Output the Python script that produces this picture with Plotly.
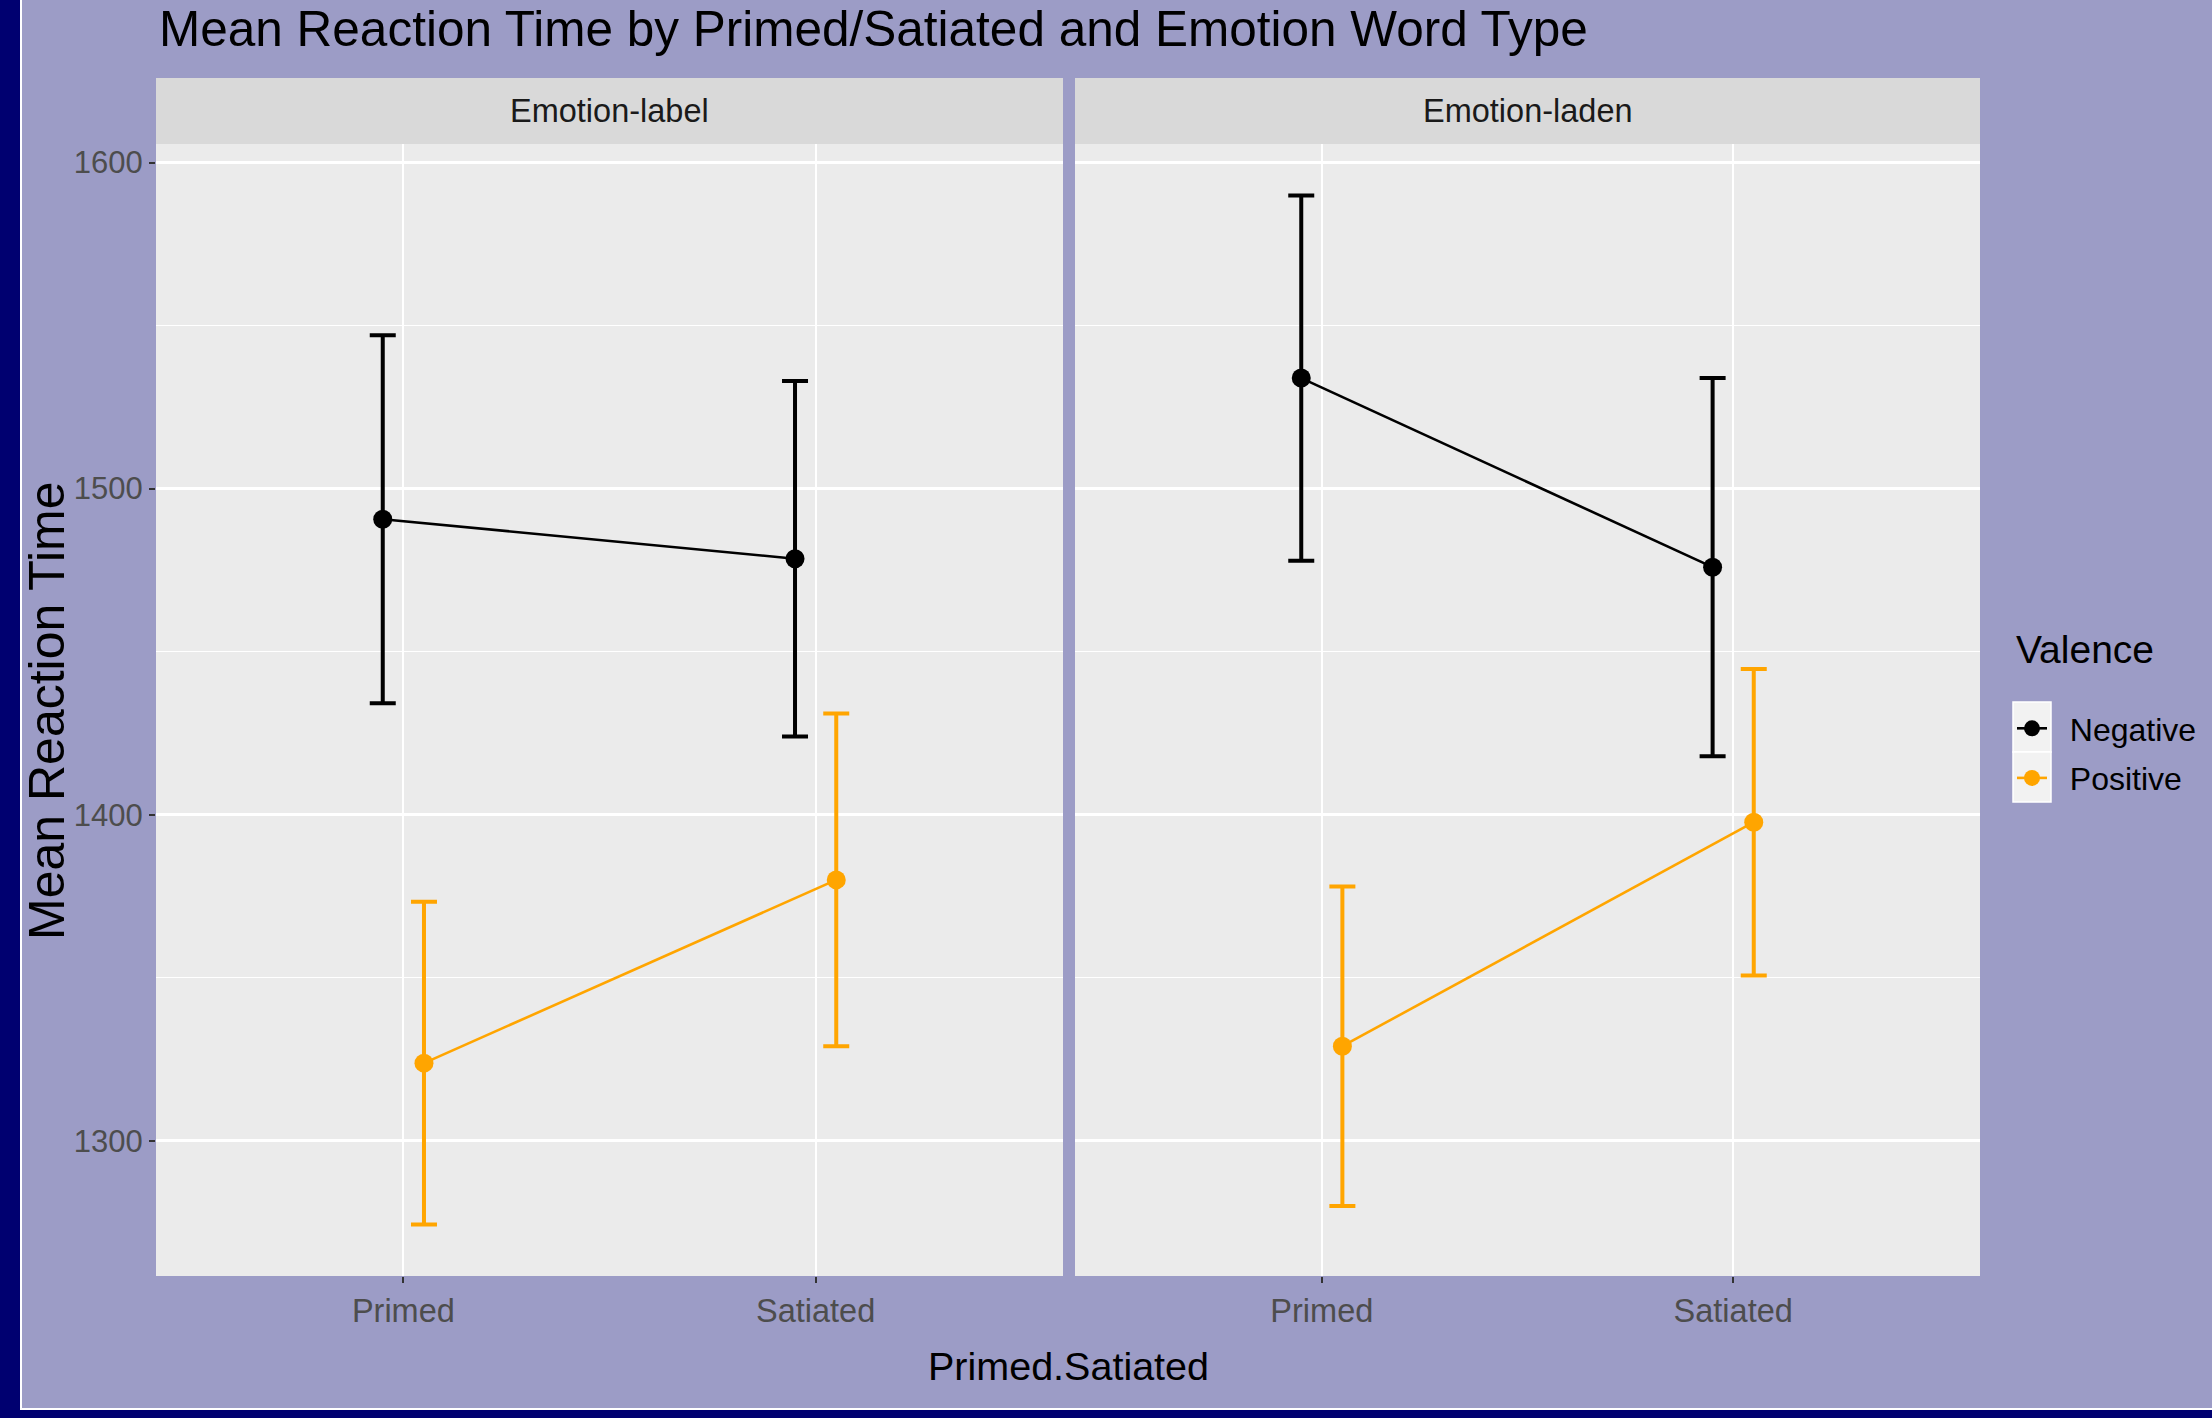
import plotly.graph_objects as go

# ---------------- data ----------------
conditions = ["Primed", "Satiated"]
word_types = ["Emotion-label", "Emotion-laden"]
valences = ["Negative", "Positive"]

neg_label_mean = [1490.6, 1478.5]
neg_label_err = [56.4, 54.5]
pos_label_mean = [1323.8, 1380.0]
pos_label_err = [49.5, 51.0]

neg_laden_mean = [1533.9, 1475.9]
neg_laden_err = [56.0, 58.0]
pos_laden_mean = [1329.0, 1397.7]
pos_laden_err = [49.0, 47.0]

y_ticks = [1300, 1400, 1500, 1600]

# ---------------- styling ----------------
W, H = 2212, 1418
FONT = "Liberation Sans, Arial, sans-serif"
BG = "#9C9CC6"
NAVY = "#000070"
colors = {"Negative": "#000000", "Positive": "#FFA500"}
dodge = {"Negative": -0.05, "Positive": 0.05}
NBSP = "\u00a0"


def px_x(p):
    return p / W


def px_y(p):
    return 1 - p / H


series = {
    ("Emotion-label", "Negative"): (neg_label_mean, neg_label_err),
    ("Emotion-label", "Positive"): (pos_label_mean, pos_label_err),
    ("Emotion-laden", "Negative"): (neg_laden_mean, neg_laden_err),
    ("Emotion-laden", "Positive"): (pos_laden_mean, pos_laden_err),
}

# y-range: data extent with 5% expansion (ggplot default)
lows = [m - e for (ms, es) in series.values() for m, e in zip(ms, es)]
highs = [m + e for (ms, es) in series.values() for m, e in zip(ms, es)]
span = max(highs) - min(lows)
y_range = [min(lows) - 0.05 * span, max(highs) + 0.05 * span]

fig = go.Figure()

for pi, wt in enumerate(word_types):
    xa = "x" if pi == 0 else "x2"
    ya = "y" if pi == 0 else "y2"
    for val in valences:
        means, errs = series[(wt, val)]
        xs = [i + 1 + dodge[val] for i in range(len(conditions))]
        fig.add_trace(go.Scatter(
            x=xs, y=means, mode="lines+markers",
            name=NBSP * 2 + val, legendgroup=val, showlegend=(pi == 0),
            line=dict(color=colors[val], width=2.6),
            marker=dict(color=colors[val], size=19),
            error_y=dict(type="data", array=errs, visible=True,
                         color=colors[val], thickness=4, width=13),
            xaxis=xa, yaxis=ya,
        ))

left_dom = [px_x(156), px_x(1063)]
right_dom = [px_x(1075), px_x(1980)]
y_dom = [px_y(1276), px_y(144)]

xaxis_common = dict(
    range=[0.4, 2.6], tickvals=[1, 2], ticktext=conditions,
    showgrid=True, gridcolor="white", gridwidth=2,
    zeroline=False, showline=False,
    ticks="outside", ticklen=6, tickwidth=1.5, tickcolor="#333333",
    tickfont=dict(family=FONT, size=32.5, color="#4D4D4D"),
    fixedrange=True,
)
yaxis_common = dict(
    range=y_range, tickvals=y_ticks,
    showgrid=True, gridcolor="white", gridwidth=2.6,
    minor=dict(dtick=50, showgrid=True, gridcolor="white", gridwidth=1.2, tick0=1250),
    zeroline=False, showline=False,
    ticks="outside", ticklen=6, tickwidth=1.5, tickcolor="#333333",
    tickfont=dict(family=FONT, size=31, color="#4D4D4D"),
    fixedrange=True,
)

shapes = [
    # navy frame strips
    dict(type="rect", xref="paper", yref="paper", x0=0, x1=px_x(20), y0=0, y1=1,
         fillcolor=NAVY, line=dict(width=0), layer="below"),
    dict(type="rect", xref="paper", yref="paper", x0=0, x1=1, y0=0, y1=1 - 1410 / H,
         fillcolor=NAVY, line=dict(width=0), layer="below"),
    dict(type="rect", xref="paper", yref="paper", x0=px_x(20), x1=px_x(22), y0=1 - 1410 / H, y1=1,
         fillcolor="white", line=dict(width=0), layer="below"),
    dict(type="rect", xref="paper", yref="paper", x0=px_x(20), x1=1, y0=1 - 1410 / H, y1=1 - 1408 / H,
         fillcolor="white", line=dict(width=0), layer="below"),
]
# facet strips
for dom in (left_dom, right_dom):
    shapes.append(dict(type="rect", xref="paper", yref="paper",
                       x0=dom[0], x1=dom[1], y0=px_y(144), y1=px_y(78),
                       fillcolor="#D9D9D9", line=dict(width=0)))
# legend key backgrounds
for (t, b) in ((702, 752), (752, 802)):
    shapes.append(dict(type="rect", xref="paper", yref="paper",
                       x0=px_x(2013), x1=px_x(2051), y0=px_y(b), y1=px_y(t),
                       fillcolor="#F2F2F2", line=dict(color="white", width=1.5)))

annotations = [
    dict(text="Mean Reaction Time by Primed/Satiated and Emotion Word Type",
         x=px_x(157), y=px_y(29), xref="paper", yref="paper",
         xanchor="left", yanchor="middle", showarrow=False,
         font=dict(family=FONT, size=49.5, color="black")),
    dict(text="Primed.Satiated", x=px_x(1068), y=px_y(1366), xref="paper", yref="paper",
         xanchor="center", yanchor="middle", showarrow=False,
         font=dict(family=FONT, size=39.5, color="black")),
    dict(text="Mean Reaction Time", x=px_x(47), y=px_y(711), xref="paper", yref="paper",
         xanchor="center", yanchor="middle", showarrow=False, textangle=-90,
         font=dict(family=FONT, size=50, color="black")),
    dict(text="Valence", x=px_x(2014), y=px_y(650), xref="paper", yref="paper",
         xanchor="left", yanchor="middle", showarrow=False,
         font=dict(family=FONT, size=39, color="black")),
]
for dom, wt in zip((left_dom, right_dom), word_types):
    annotations.append(dict(text=wt, x=(dom[0] + dom[1]) / 2, y=px_y(111),
                            xref="paper", yref="paper", xanchor="center", yanchor="middle",
                            showarrow=False,
                            font=dict(family=FONT, size=32.5, color="#1A1A1A")))

fig.update_layout(
    width=W, height=H, autosize=False,
    margin=dict(l=0, r=0, t=0, b=0),
    paper_bgcolor=BG, plot_bgcolor="#EBEBEB",
    xaxis=dict(domain=left_dom, anchor="y", **xaxis_common),
    xaxis2=dict(domain=right_dom, anchor="y2", **xaxis_common),
    yaxis=dict(domain=y_dom, anchor="x", **yaxis_common),
    yaxis2=dict(domain=y_dom, anchor="x2", matches="y", showticklabels=False,
                **{k: v for k, v in yaxis_common.items() if k not in ("tickfont", "ticks")}),
    showlegend=True,
    legend=dict(
        font=dict(family=FONT, size=32, color="black"),
        x=px_x(2012), y=px_y(701), xanchor="left", yanchor="top",
        bgcolor="rgba(0,0,0,0)", borderwidth=0, itemsizing="trace",
        itemwidth=30, tracegroupgap=5,
    ),
    shapes=shapes, annotations=annotations,
)

fig.write_html("out.html", config={"displayModeBar": False},
               post_script="document.body.style.margin='0';document.body.style.padding='0';")
